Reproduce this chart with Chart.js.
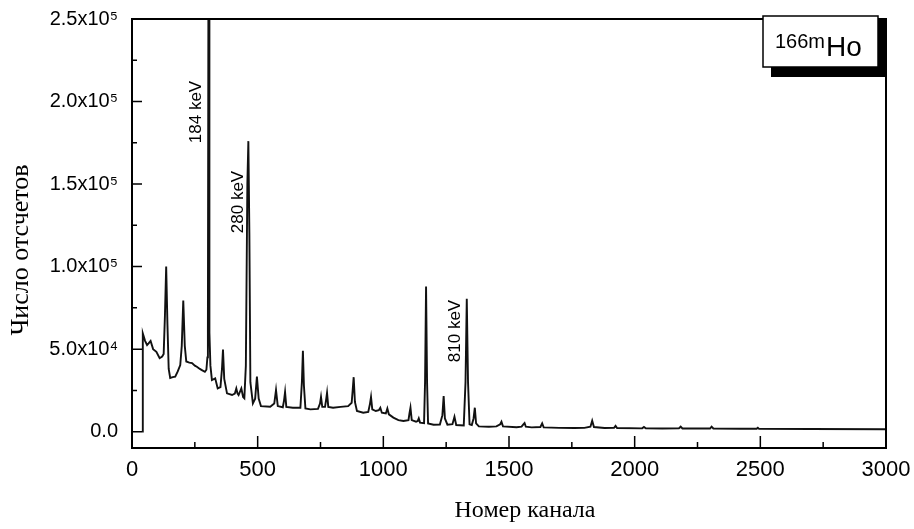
<!DOCTYPE html>
<html>
<head>
<meta charset="utf-8">
<script src="https://cdn.jsdelivr.net/npm/chart.js@4.4.1/dist/chart.umd.min.js"></script>
<style>
  html, body { margin: 0; padding: 0; background: #fff; }
  #wrap { width: 914px; height: 529px; position: relative; }
</style>
</head>
<body>
<div id="wrap"><canvas id="chart" width="914" height="529"></canvas></div>
<script>
// spectrum of 166mHo (channel, counts)
const CHANNELS = [
  40, 43, 52, 60, 66, 74, 84, 97, 110, 120, 126, 131, 136, 141, 146, 152, 162, 172, 182, 192,
  198, 204, 210, 216, 228, 239, 250, 258, 270, 278, 290, 296, 300, 302, 304, 306.5, 308, 312, 318, 331,
  341, 352, 358, 362, 367, 378, 398, 409, 415, 420, 424, 435, 442, 447, 453, 459, 463, 467, 471, 481,
  490, 497, 504, 513, 550, 566, 573, 580, 600, 605, 609, 614, 640, 670, 676, 680, 684, 690, 710, 740,
  748, 752, 757, 768, 772, 776, 781, 800, 830, 860, 874, 878, 882, 887, 895, 920, 940, 947, 951, 956,
  970, 982, 988, 994, 1010, 1016, 1022, 1040, 1060, 1080, 1100, 1104, 1108, 1113, 1130, 1137, 1141, 1146, 1162, 1166,
  1170, 1174, 1178, 1200, 1225, 1235, 1240, 1245, 1255, 1275, 1283, 1290, 1320, 1327, 1332, 1337, 1343, 1352, 1359, 1364,
  1369, 1380, 1420, 1450, 1465, 1470, 1476, 1530, 1550, 1558, 1562, 1567, 1590, 1625, 1632, 1638, 1700, 1760, 1800, 1824,
  1831, 1838, 1880, 1918, 1924, 1930, 2030, 2037, 2044, 2110, 2176, 2183, 2190, 2300, 2306, 2313, 2420, 2485, 2490, 2495,
  2700, 3000
];
const COUNTS = [
  0, 59500, 55000, 52500, 53500, 55000, 50000, 48400, 44500, 45500, 47000, 70000, 100000, 65000, 38000, 32500, 33000, 33300, 36500, 40300,
  52000, 79500, 52000, 42500, 41800, 41500, 40000, 39300, 38000, 37300, 36300, 37500, 45000, 60000, 262000, 262000, 60000, 40000, 31300, 32300,
  26200, 27000, 38000, 49800, 32000, 23200, 22200, 23000, 26200, 23000, 22200, 26200, 21000, 20200, 40000, 150000, 176000, 120000, 30000, 17100,
  20000, 33300, 20000, 15500, 15100, 17000, 25200, 15500, 14800, 19000, 24000, 15000, 14500, 14500, 30000, 49000, 28000, 14000, 13500, 13800,
  17000, 21000, 15000, 15000, 19000, 23500, 15000, 14500, 15000, 15500, 17500, 25000, 33000, 18000, 12500, 11500, 12000, 17000, 21000, 13500,
  12500, 13000, 14500, 11500, 11000, 14000, 10500, 8500, 7000, 6500, 7000, 11000, 14500, 7000, 6000, 6500, 8000, 5500, 5200, 30000,
  88000, 30000, 5000, 4200, 4300, 10000, 21500, 8000, 4200, 4500, 9000, 4000, 3800, 30000, 80500, 30000, 4500, 4000, 8000, 14500,
  5000, 3200, 3000, 3200, 4500, 6000, 3200, 2700, 3000, 4500, 5200, 3000, 2600, 2800, 5000, 2600, 2300, 2200, 2300, 3000,
  6600, 2800, 2200, 2300, 3500, 2200, 2000, 2800, 2000, 1900, 2000, 3000, 1900, 1900, 3000, 1900, 1800, 1800, 2400, 1700,
  1600, 1500
];

const X_TICKS = [0, 500, 1000, 1500, 2000, 2500, 3000];
const X_MINOR_TICKS = [250, 750, 1250, 1750, 2250, 2750];
const Y_TICKS = [0, 50000, 100000, 150000, 200000, 250000];
const Y_TICK_LABELS = ['0.0', '5.0x10\u2074', '1.0x10\u2075', '1.5x10\u2075', '2.0x10\u2075', '2.5x10\u2075'];
const Y_MINOR_TICKS = [25000, 75000, 125000, 175000, 225000];
const PEAK_LABELS = ['184 keV', '280 keV', '810 keV'];
const X_TITLE = 'Номер канала';
const Y_TITLE = 'Число отсчетов';
const NUCLIDE = ['166m', 'Ho'];

const SANS = '"Liberation Sans", Arial, sans-serif';
const SERIF = '"Liberation Serif", "Times New Roman", serif';

const points = CHANNELS.map((ch, i) => ({ x: ch, y: COUNTS[i] }));

// no extra room for labels that stick out past the plot
function noOverflow(s) {
  s.paddingLeft = 0;
  s.paddingRight = 0;
  s.paddingTop = 0;
  s.paddingBottom = 0;
}

// frame, inward ticks, titles, peak labels and the nuclide box
const decorations = {
  id: 'decorations',
  afterDraw(chart) {
    const ctx = chart.ctx;
    const area = chart.chartArea;
    const xs = chart.scales.x;
    const ys = chart.scales.y;
    ctx.save();
    ctx.strokeStyle = '#000';
    ctx.fillStyle = '#000';

    ctx.lineWidth = 2;
    ctx.strokeRect(area.left, area.top, area.right - area.left, area.bottom - area.top);

    ctx.lineWidth = 1.5;
    ctx.beginPath();
    X_TICKS.forEach(v => {
      const px = xs.getPixelForValue(v);
      ctx.moveTo(px, area.bottom);
      ctx.lineTo(px, area.bottom - 12);
    });
    X_MINOR_TICKS.forEach(v => {
      const px = xs.getPixelForValue(v);
      ctx.moveTo(px, area.bottom);
      ctx.lineTo(px, area.bottom - 6);
    });
    Y_TICKS.forEach(v => {
      const py = ys.getPixelForValue(v);
      ctx.moveTo(area.left, py);
      ctx.lineTo(area.left + 10, py);
    });
    Y_MINOR_TICKS.forEach(v => {
      const py = ys.getPixelForValue(v);
      ctx.moveTo(area.left, py);
      ctx.lineTo(area.left + 5, py);
    });
    ctx.stroke();

    // axis titles
    ctx.textAlign = 'center';
    ctx.textBaseline = 'middle';
    ctx.font = '24px ' + SERIF;
    ctx.fillText(X_TITLE, 525, 511);
    ctx.save();
    ctx.translate(21, 250);
    ctx.rotate(-Math.PI / 2);
    ctx.font = '26px ' + SERIF;
    ctx.fillText(Y_TITLE, 0, 0);
    ctx.restore();

    // peak labels, rotated
    const peakPos = [[196, 112], [238.5, 202], [455.5, 331]];
    ctx.font = '17px ' + SANS;
    PEAK_LABELS.forEach((t, i) => {
      ctx.save();
      ctx.translate(peakPos[i][0], peakPos[i][1]);
      ctx.rotate(-Math.PI / 2);
      ctx.fillText(t, 0, 0);
      ctx.restore();
    });

    // nuclide box with drop shadow
    ctx.fillRect(771, 66, 115, 11);
    ctx.fillRect(878, 20, 8, 57);
    ctx.fillStyle = '#fff';
    ctx.fillRect(763, 16, 115, 51);
    ctx.lineWidth = 1.5;
    ctx.strokeRect(763, 16, 115, 51);
    ctx.fillStyle = '#000';
    ctx.textAlign = 'left';
    ctx.textBaseline = 'alphabetic';
    ctx.font = '20px ' + SANS;
    ctx.fillText(NUCLIDE[0], 775, 48);
    const w = ctx.measureText(NUCLIDE[0]).width;
    ctx.font = '28px ' + SANS;
    ctx.fillText(NUCLIDE[1], 775 + w + 1, 56);
    ctx.restore();
  }
};

new Chart(document.getElementById('chart'), {
  type: 'scatter',
  data: {
    datasets: [{
      data: points,
      showLine: true,
      borderColor: '#111',
      borderWidth: 1.9,
      pointRadius: 0,
      tension: 0,
      fill: false
    }]
  },
  options: {
    responsive: false,
    animation: false,
    events: [],
    layout: { padding: { top: 19, right: 28, left: 0, bottom: 0 } },
    plugins: { legend: { display: false }, tooltip: { enabled: false } },
    scales: {
      x: {
        type: 'linear',
        min: 0,
        max: 3000,
        afterBuildTicks: s => { s.ticks = X_TICKS.map(v => ({ value: v })); },
        afterFit: s => { s.height = 81; noOverflow(s); },
        grid: { display: false, drawTicks: false },
        border: { display: false },
        ticks: {
          padding: 9,
          color: '#000',
          maxRotation: 0,
          font: { family: SANS, size: 22 },
          callback: v => String(v)
        }
      },
      y: {
        type: 'linear',
        min: -9900,
        max: 250000,
        afterBuildTicks: s => { s.ticks = Y_TICKS.map(v => ({ value: v })); },
        afterFit: s => { s.width = 132; noOverflow(s); },
        grid: { display: false, drawTicks: false },
        border: { display: false },
        ticks: {
          padding: 14,
          color: '#000',
          font: { family: SANS, size: 20 },
          callback: v => Y_TICK_LABELS[Y_TICKS.indexOf(v)]
        }
      }
    }
  },
  plugins: [decorations]
});
</script>
</body>
</html>
